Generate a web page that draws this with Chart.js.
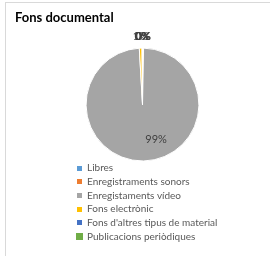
<!DOCTYPE html>
<html><head><meta charset="utf-8">
<script src="https://cdn.jsdelivr.net/npm/chart.js@4"></script>
<style>
html,body{margin:0;padding:0;background:#fff;}
#wrap{position:relative;width:270px;height:256px;overflow:hidden;}
#frame{position:absolute;left:5px;top:2px;width:300px;height:300px;border-left:1px solid #d9d9d9;border-top:1px solid #d9d9d9;}
canvas{position:absolute;left:0;top:0;}
</style></head><body>
<div id="wrap"><div id="frame"></div><canvas id="c" width="270" height="256"></canvas></div>
<script>
const chartTitle = 'Fons documental';
const categories = ['Libres', 'Enregistraments sonors', 'Enregistaments vídeo', 'Fons electrònic', "Fons d'altres tipus de material", 'Publicacions periòdiques'];
const values = [0.2, 0.1, 98.8, 0.8, 0.05, 0.05];
const colors = ['#5B9BD5', '#ED7D31', '#A5A5A5', '#FFC000', '#4472C4', '#70AD47'];
const markerSizes = [5, 5, 5, 5, 5, 7];

function markerImg(color, s) {
  const c = document.createElement('canvas');
  c.width = s; c.height = s;
  const g = c.getContext('2d');
  g.fillStyle = color; g.fillRect(0, 0, s, s);
  return c;
}

const legendColumn = {
  id: 'legendColumn',
  beforeLayout(chart, args, opts) {
    const lg = chart.legend;
    if (lg && !lg.__col) {
      lg.__col = true;
      const fit = lg.fit;
      lg.fit = function () {
        const mw = this.maxWidth;
        this.maxWidth = opts.width;
        fit.call(this);
        this.maxWidth = mw;
      };
    }
  },
  afterLayout(chart, args, opts) {
    const lg = chart.legend;
    lg.left = opts.left; lg.right = opts.left + opts.width; lg.width = opts.width;
    lg.top += opts.dy; lg.bottom += opts.dy;
  }
};

const pieLabels = {
  id: 'pieLabels',
  afterDatasetsDraw(chart, args, opts) {
    const ctx = chart.ctx;
    const meta = chart.getDatasetMeta(0);
    const data = chart.data.datasets[0].data;
    const total = data.reduce((a, b) => a + b, 0);
    ctx.save();
    ctx.font = opts.size + 'px ' + opts.family;
    ctx.fillStyle = opts.color;
    ctx.textAlign = 'center'; ctx.textBaseline = 'middle';
    meta.data.forEach((arc, i) => {
      const p = arc.getProps(['x', 'y', 'startAngle', 'endAngle', 'outerRadius'], true);
      const frac = data[i] / total;
      const mid = (p.startAngle + p.endAngle) / 2;
      let a, d;
      if (frac > 0.5) { a = mid + opts.insideShift; d = p.outerRadius * opts.insideFactor; }
      else { a = mid; d = p.outerRadius + opts.outsideGap; }
      ctx.fillText(Math.round(frac * 100) + '%', p.x + Math.cos(a) * d, p.y + Math.sin(a) * d);
    });
    ctx.restore();
  }
};

new Chart(document.getElementById('c'), {
  type: 'pie',
  data: {
    labels: categories,
    datasets: [{ data: values, backgroundColor: colors, borderColor: '#ffffff', borderWidth: 1 }]
  },
  plugins: [legendColumn, pieLabels],
  options: {
    responsive: false,
    animation: false,
    layout: { padding: { left: 15, right: -29, top: 0, bottom: 2.3 } },
    plugins: {
      tooltip: { enabled: false },
      title: {
        display: true, text: chartTitle, align: 'start', color: '#000000',
        font: { family: 'Lato', size: 13, weight: 'bold' },
        padding: { top: 10, bottom: 22 }
      },
      legend: {
        position: 'bottom', align: 'start',
        labels: {
          usePointStyle: true, boxWidth: 5, boxHeight: 5, padding: 3.7,
          color: '#595959', font: { family: 'Lato', size: 10 },
          generateLabels: () => categories.map((c, i) => ({
            text: c, fillStyle: colors[i], strokeStyle: colors[i], lineWidth: 0,
            pointStyle: markerImg(colors[i], markerSizes[i]), hidden: false, index: i, fontColor: '#595959'
          }))
        }
      },
      legendColumn: { left: 73.3, width: 150, dy: -2.2 },
      pieLabels: { family: 'Lato', size: 11, color: '#404040', insideShift: -20 * Math.PI / 180, insideFactor: 0.67, outsideGap: 11.5 }
    }
  }
});
</script>
</body></html>
